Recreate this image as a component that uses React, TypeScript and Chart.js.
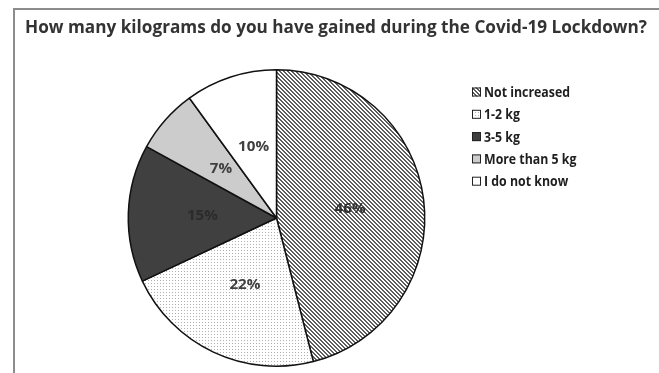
import React, { useEffect, useRef } from "react";
import { Chart, registerables } from "chart.js";

Chart.register(...registerables);

const TITLE = "How many kilograms do you have gained during the Covid-19 Lockdown?";
const categories = ["Not increased", "1-2 kg", "3-5 kg", "More than 5 kg", "I do not know"];
const shares = [46, 22, 15, 7, 10];
const labelColors = ["#303030", "#404040", "#2b2b2b", "#404040", "#404040"];

function stripePattern(ctx: CanvasRenderingContext2D) {
  const c = document.createElement("canvas");
  c.width = 4;
  c.height = 4;
  const g = c.getContext("2d")!;
  g.fillStyle = "#ffffff";
  g.fillRect(0, 0, 4, 4);
  g.fillStyle = "#5e5e5e";
  for (let i = 0; i < 4; i++) {
    g.fillRect(i, i, 1, 1);
    g.fillRect((i + 1) % 4, i, 1, 1);
  }
  return ctx.createPattern(c, "repeat")!;
}

function dotPattern(ctx: CanvasRenderingContext2D) {
  const c = document.createElement("canvas");
  c.width = 3;
  c.height = 3;
  const g = c.getContext("2d")!;
  g.fillStyle = "#ffffff";
  g.fillRect(0, 0, 3, 3);
  g.fillStyle = "#b0b0b0";
  g.fillRect(1, 1, 1, 1);
  return ctx.createPattern(c, "repeat")!;
}

// draw text compressed horizontally by factor sx, anchored at left or center
function drawText(ctx: CanvasRenderingContext2D, text: string, x: number, y: number, sx: number, align: "left" | "center") {
  const w = ctx.measureText(text).width * sx;
  const left = align === "center" ? x - w / 2 : x;
  ctx.save();
  ctx.translate(left, y);
  ctx.scale(sx, 1);
  ctx.textAlign = "left";
  ctx.fillText(text, 0, 0);
  ctx.restore();
}

const decorPlugin = {
  id: "decor",
  afterDraw(chart: any) {
    const ctx: CanvasRenderingContext2D = chart.ctx;
    ctx.save();
    // frame
    ctx.fillStyle = "#8c8c8c";
    ctx.fillRect(13, 8, chart.width - 13, 2);
    ctx.fillRect(13, 8, 2, chart.height - 8);
    // title
    ctx.fillStyle = "#333333";
    ctx.font = "bold 18px 'Open Sans'";
    ctx.textBaseline = "alphabetic";
    const tsx = 622 / ctx.measureText(TITLE).width;
    drawText(ctx, TITLE, 25, 33, tsx, "left");
    // slice labels
    const meta = chart.getDatasetMeta(0);
    ctx.font = "bold 14px 'Open Sans'";
    ctx.textBaseline = "middle";
    const lsx = 31 / ctx.measureText("46%").width;
    meta.data.forEach((arc: any, i: number) => {
      const p = arc.tooltipPosition();
      ctx.fillStyle = labelColors[i];
      drawText(ctx, shares[i] + "%", p.x, p.y, lsx, "center");
    });
    // legend
    const ds = chart.data.datasets[0];
    ctx.font = "bold 14px 'Open Sans'";
    const gsx = 86 / ctx.measureText(categories[0]).width;
    categories.forEach((lab, i) => {
      const cy = 92 + 22.3 * i;
      ctx.fillStyle = ds.backgroundColor[i];
      ctx.fillRect(472, cy - 4.5, 9, 9);
      ctx.strokeStyle = "#222222";
      ctx.lineWidth = 1;
      ctx.strokeRect(472.5, cy - 4, 8, 8);
      ctx.fillStyle = "#1e1e1e";
      drawText(ctx, lab, 484, cy + 1, gsx, "left");
    });
    ctx.restore();
  },
};

export default function App() {
  const ref = useRef<HTMLCanvasElement>(null);
  useEffect(() => {
    const canvas = ref.current!;
    const ctx = canvas.getContext("2d")!;
    const colors: any[] = [stripePattern(ctx), dotPattern(ctx), "#404040", "#cccccc", "#ffffff"];
    const chart = new Chart(canvas, {
      type: "pie",
      data: {
        labels: categories,
        datasets: [
          {
            data: shares,
            backgroundColor: colors,
            borderColor: "#111111",
            borderWidth: 1.5,
          },
        ],
      },
      options: {
        responsive: false,
        animation: false,
        devicePixelRatio: 1,
        layout: { padding: { left: 127, right: 233, top: 69, bottom: 6 } },
        plugins: {
          legend: { display: false },
          title: { display: false },
          tooltip: { enabled: false },
        },
      },
      plugins: [decorPlugin],
    });
    return () => chart.destroy();
  }, []);
  return (
    <div style={{ position: "fixed", left: 0, top: 0, width: 659, height: 373, background: "#fff" }}>
      <canvas ref={ref} width={659} height={373} style={{ width: 659, height: 373 }} />
    </div>
  );
}
